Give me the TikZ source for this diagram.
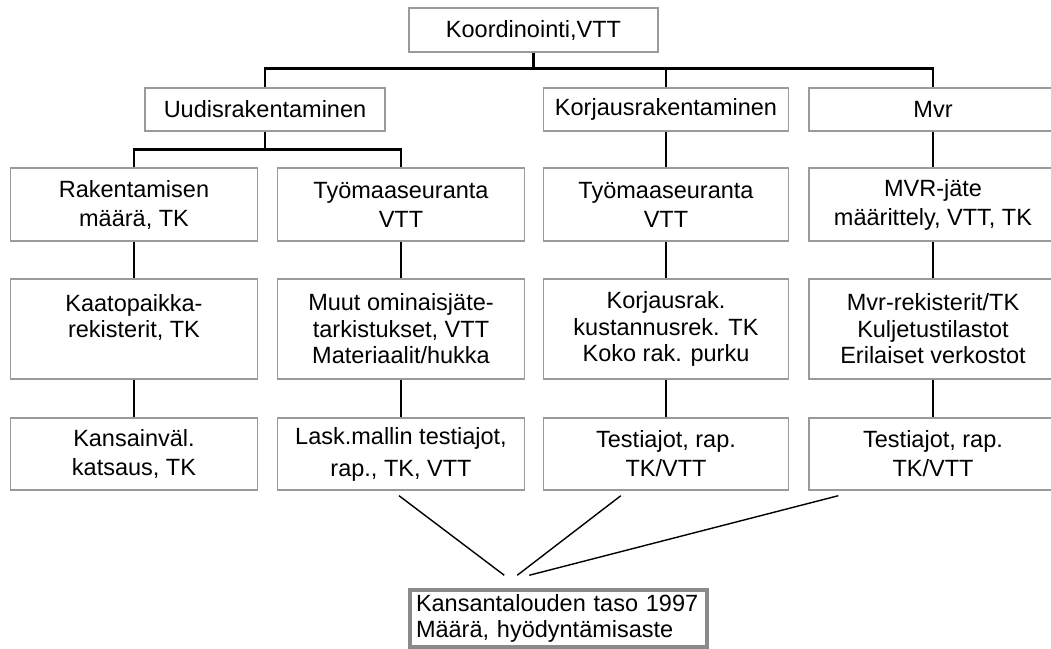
\documentclass[tikz,border=0pt]{standalone}
\usepackage{fontspec}
\setmainfont{Liberation Sans}
\usetikzlibrary{calc}
\definecolor{boxgray}{HTML}{9A9A9A}
\definecolor{thickgray}{HTML}{8A8A8A}
\begin{document}
\begin{tikzpicture}[x=1pt,y=-1pt,
  box/.style={draw=boxgray, line width=1.4pt, inner sep=0pt, align=center,
    font=\fontsize{23.5}{29}\selectfont, minimum width=247pt},
  hdr/.style={box, minimum height=43pt},
  rowtwo/.style={box, minimum height=73pt},
  rowthree/.style={box, minimum height=100pt, font=\fontsize{23.5}{26.5}\selectfont},
  rowfour/.style={box, minimum height=72pt},
  link/.style={line width=2.8pt, black},
  feed/.style={line width=1.4pt, black}]
\useasboundingbox (0,0) rectangle (1051,648);

% top
\node[box, minimum width=249pt, minimum height=44pt] (top) at (533.5,30) {Koordinointi,VTT};

% row 1
\node[hdr, minimum width=240pt] (uud) at (265,109.5) {Uudisrakentaminen};
\node[hdr, minimum width=245pt] (kor) at (666,109.5) {Korjausrakentaminen};
\node[hdr, minimum width=248pt] (mvr) at (933,109.5) {Mvr};

% row 2
\node[rowtwo] (r2a) at (134,204.5) {Rakentamisen\\määrä, TK};
\node[rowtwo] (r2b) at (401,204.5) {Työmaaseuranta\\VTT};
\node[rowtwo, minimum width=245pt] (r2c) at (666,204.5) {Työmaaseuranta\\VTT};
\node[rowtwo, minimum width=248pt] (r2d) at (933,204.5) {MVR-jäte\\määrittely, VTT, TK};

% row 3
\node[rowthree] (r3a) at (134,329) {Kaatopaikka-\\rekisterit, TK\\\mbox{}};
\node[rowthree] (r3b) at (401,329) {Muut ominaisjäte-\\tarkistukset, VTT\\Materiaalit/hukka};
\node[rowthree, minimum width=245pt] (r3c) at (666,329) {Korjausrak.\\kustannusrek. TK\\Koko rak. purku};
\node[rowthree, minimum width=248pt] (r3d) at (933,329) {Mvr-rekisterit/TK\\Kuljetustilastot\\Erilaiset verkostot};

% row 4
\node[rowfour] (r4a) at (134,454) {Kansainväl.\\katsaus, TK};
\node[rowfour] (r4b) at (401,454) {Lask.mallin testiajot,\\[3pt]rap., TK, VTT};
\node[rowfour, minimum width=245pt] (r4c) at (666,454) {Testiajot, rap.\\TK/VTT};
\node[rowfour, minimum width=248pt] (r4d) at (933,454) {Testiajot, rap.\\TK/VTT};

% bottom
\node[draw=thickgray, line width=3.5pt, inner sep=0pt, minimum width=297pt,
  minimum height=57pt, align=left, text width=285pt,
  font=\fontsize{23.5}{25.5}\selectfont] (nat) at (558.5,618.5)
  {Kansantalouden taso 1997\\Määrä, hyödyntämisaste};

% tree connectors
\coordinate (j0) at ($(top.south)+(0,16)$);
\draw[link] (top.south) -- (j0);
\draw[link] (uud.north) |- (j0) -| (mvr.north);
\draw[link] (j0) -| (kor.north);

\coordinate (j1) at ($(uud.south)+(0,18)$);
\draw[link] (uud.south) -- (j1);
\draw[link] (r2a.north) |- (j1) -| (r2b.north);
\draw[link] (kor.south) -- (r2c.north);
\draw[link] (mvr.south) -- (r2d.north);

\foreach \c in {a,b,c,d} {
  \draw[link] (r2\c.south) -- (r3\c.north);
  \draw[link] (r3\c.south) -- (r4\c.north);
}

% feeds to the bottom box
\coordinate (s1) at ($(r4b.south)+(-2,5)$);
\coordinate (s2) at ($(r4c.south west)+(78,5)$);
\coordinate (s3) at ($(r4d.south west)+(30,5)$);
\coordinate (e1) at ($(nat.north west)+(96,-13)$);
\coordinate (e2) at ($(nat.north west)+(109,-13)$);
\coordinate (e3) at ($(nat.north west)+(121,-13)$);
\draw[feed] (s1) -- (e1);
\draw[feed] (s2) -- (e2);
\draw[feed] (s3) -- (e3);
\end{tikzpicture}
\end{document}
